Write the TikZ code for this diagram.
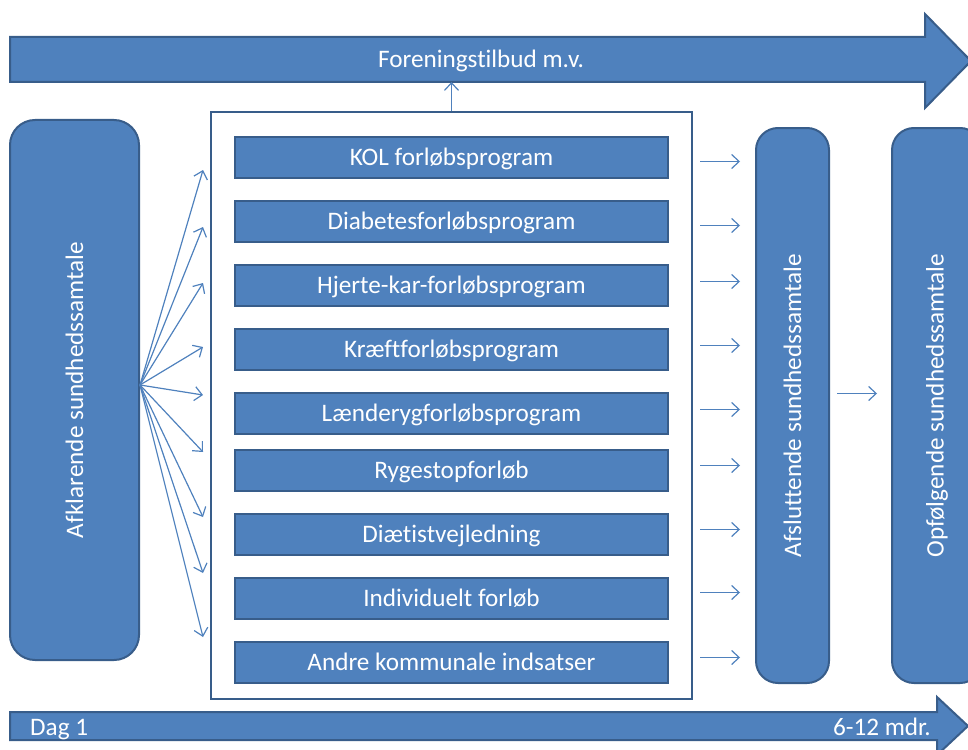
\documentclass[tikz,border=0pt]{standalone}
\usepackage{fontspec}
\setmainfont{Carlito}[Ligatures = NoCommon]
\usetikzlibrary{positioning, calc, arrows.meta}
\definecolor{blaa}{RGB}{79,129,189}
\definecolor{kant}{RGB}{56,93,138}
\tikzstyle{program} = [rectangle, minimum width = 433pt, minimum height = 41pt, outer sep = 0pt, text centered, text height = 18pt, text depth = 2pt, draw = kant, line width = 2pt, fill = blaa, text = white]
\tikzstyle{samtale} = [rectangle, rounded corners = 22pt, draw = kant, line width = 2pt, fill = blaa, text = white, outer sep = 0pt]
\tikzstyle{storpil} = [draw = kant, line width = 2pt, fill = blaa, line join = miter]
\tikzstyle{tekst} = [text = white, inner sep = 0pt]
\tikzstyle{pil} = [draw = blaa, line width = 1.2pt, -{Straight Barb[length = 7.5pt, width = 14pt]}]

\begin{document}
\begin{tikzpicture}[x = 1pt, y = -1pt, font = \fontsize{25.2}{30}\selectfont, node distance = 23pt]
\useasboundingbox (0,0) rectangle (968,749);
% tidslinjer
\draw[storpil] (10,37) -- (925,37) -- (925,14) -- (971,61) -- (925,108) -- (925,82) -- (10,82) -- cycle;
\draw[storpil] (10,712) -- (937,712) -- (937,697) -- (968,726) -- (937,755) -- (937,740) -- (10,740) -- cycle;
\node (forening) [tekst, anchor = base] at (481,68) {Foreningstilbud m.v.};
\node (dag) [tekst, anchor = base west] at (30,735) {Dag 1};
\node (mdr) [tekst, anchor = base east] at (931,735) {6-12 mdr.};
\coordinate (skaft) at (451.5,82);

% forloeb
\node (ramme) [draw = kant, line width = 2pt, fill = white, minimum width = 481pt, minimum height = 587pt] at (451.5,405.5) {};
\node (p1) [program] at (451.5,157.5) {KOL forløbsprogram};
\node (p2) [program, below = of p1] {Diabetesforløbsprogram};
\node (p3) [program, below = of p2] {Hjerte-kar-forløbsprogram};
\node (p4) [program, below = of p3] {Kræftforløbsprogram};
\node (p5) [program, below = of p4] {Lænderygforløbsprogram};
\node (p6) [program, below = 16pt of p5] {Rygestopforløb};
\node (p7) [program, below = of p6] {Diætistvejledning};
\node (p8) [program, below = of p7] {Individuelt forløb};
\node (p9) [program, below = of p8] {Andre kommunale indsatser};

% samtaler
\node (afklar) [samtale, minimum width = 129pt, minimum height = 540pt, rounded corners = 25pt] at (74.5,390) {\rotatebox{90}{Afklarende sundhedssamtale}};
\node (afslut) [samtale, minimum width = 73pt, minimum height = 555pt] at (792.5,405.5) {\rotatebox{90}{Afsluttende sundhedssamtale}};
\node (opf) [samtale, minimum width = 90pt, minimum height = 555pt] at (937,405.5) {\rotatebox{90}{Opfølgende sundhedssamtale}};

% pile
\coordinate (fan) at ($(afklar.east) + (1,-5)$);
\foreach \y [count = \i] in {170,227,283,347,395,452,517,573,637} {
  \coordinate (f\i) at (203,\y);
  \draw[pil] (fan) -- (f\i);
}
\foreach \d [count = \i] in {4,4,-4,-4,-4,-5,-5,-6,-5}
  \draw[pil] ($(p\i.east) + (32,\d)$) -- ($(afslut.west |- p\i.east) + (-16,\d)$);
\draw[pil] ($(afslut.east) + (8,-12)$) -- ($(opf.west) + (-15,-12)$);
\draw[pil] (ramme.north) -- (skaft);
\end{tikzpicture}
\end{document}
